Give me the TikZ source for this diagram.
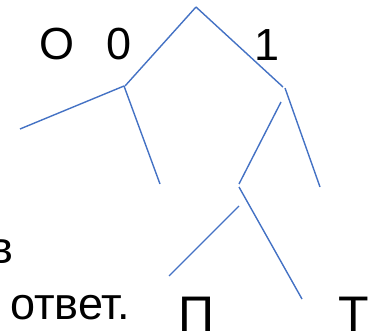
\documentclass[tikz,border=0pt]{standalone}
\usepackage{fontspec}
\setmainfont{Liberation Sans}
\definecolor{edgeblue}{HTML}{4472C4}
\begin{document}
\begin{tikzpicture}[x=1pt,y=-1pt,
  edge/.style={draw=edgeblue,line width=1.4pt},
  lbl/.style={anchor=base west,inner sep=0pt,outer sep=0pt,font=\fontsize{45}{45}\selectfont},
  biglbl/.style={anchor=base west,inner sep=0pt,outer sep=0pt,font=\fontsize{50}{50}\selectfont}]
\useasboundingbox (0,0) rectangle (377,331);
\node[lbl] (o) at (39,60) {O};
\node[lbl] (zero) at (106,60) {0};
\node[lbl] (one) at (254,61) {1};
\node[lbl] (v) at (-10,263) {в};
\node[lbl] (otvet) at (10,319) {ответ.};
\node[biglbl] (p) at (178,331) {П};
\node[biglbl] (t) at (338,331) {Т};
\coordinate (r) at (196,7);
\coordinate (a) at (125,86);
\coordinate (a1) at (124,86);
\coordinate (b) at (283,87);
\coordinate (b1) at (285,88);
\coordinate (l1) at (20,129);
\coordinate (l2) at (160,184);
\coordinate (l3) at (320,187);
\coordinate (c0) at (281,102);
\coordinate (c) at (239,184);
\coordinate (c1) at (239,187);
\coordinate (c2) at (239,206);
\coordinate (l4) at (302,299);
\coordinate (l5) at (169,276);
\draw[edge] (r) -- (a);
\draw[edge] (r) -- (b);
\draw[edge] (a1) -- (l1);
\draw[edge] (a1) -- (l2);
\draw[edge] (b1) -- (l3);
\draw[edge] (c0) -- (c);
\draw[edge] (c1) -- (l4);
\draw[edge] (c2) -- (l5);
\end{tikzpicture}
\end{document}
